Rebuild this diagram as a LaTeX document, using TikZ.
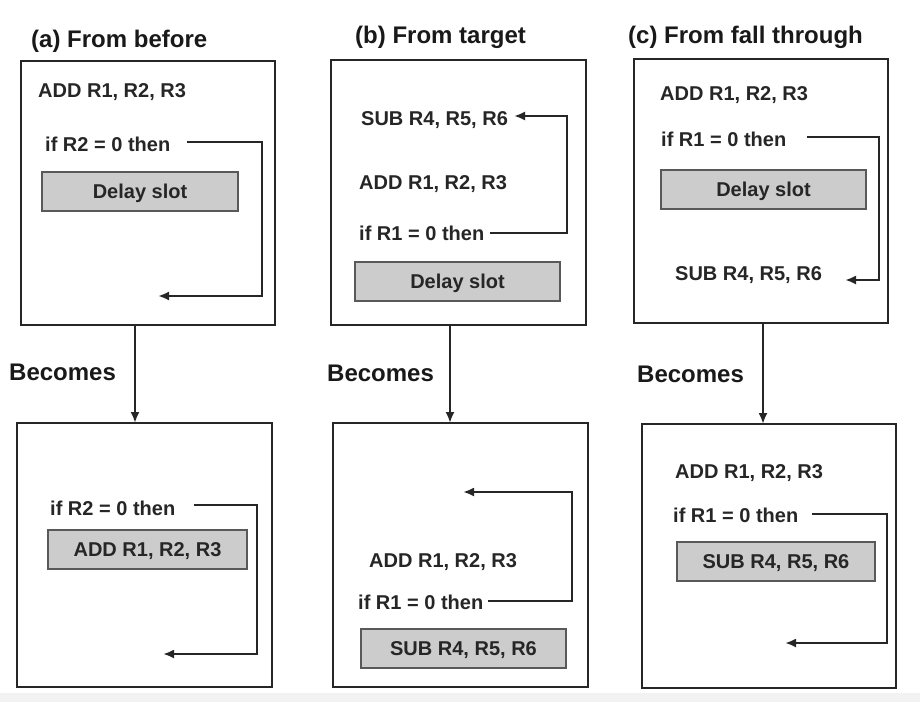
\documentclass[tikz,border=0pt]{standalone}
\usepackage{fontspec}
\setmainfont{Liberation Sans}
\usetikzlibrary{arrows.meta}
\begin{document}
\begin{tikzpicture}[x=1pt,y=-1pt,
 panel/.style={draw=black!85, line width=2.2pt, inner sep=0pt, outer sep=0pt},
 slot/.style={draw=black!65, line width=1.6pt, fill=black!20, inner sep=0pt, outer sep=0pt, text=black!85, font=\fontsize{20}{24}\selectfont\bfseries, text height=14.3pt, text depth=0pt},
 code/.style={inner sep=0pt, anchor=west, text=black!85, font=\fontsize{20}{24}\selectfont\bfseries, text height=14.3pt, text depth=0pt},
 title/.style={inner sep=0pt, anchor=west, text=black!90, font=\fontsize{24}{28}\selectfont\bfseries, text height=17.2pt, text depth=0pt},
 conn/.style={line width=2.2pt, draw=black!85, -{Latex[length=11pt,width=9pt]}}
]
\useasboundingbox (0,0) rectangle (920,702);
\fill[white] (0,0) rectangle (920,702);
\fill[black!5] (0,693) rectangle (920,702);

% titles
\node[title] (ta) at (31,39) {(a) From before};
\node[title] (tb) at (355,35) {(b) From target};
\node[title] (tc) at (628,35) {(c) From fall through};

% panel boxes
\node[panel, minimum width=254pt, minimum height=264pt] (a1) at (148,193) {};
\node[panel, minimum width=255pt, minimum height=264pt] (a2) at (144.5,555) {};
\node[panel, minimum width=255pt, minimum height=265pt] (b1) at (458.5,192.5) {};
\node[panel, minimum width=255pt, minimum height=264pt] (b2) at (460.5,555) {};
\node[panel, minimum width=254pt, minimum height=264pt] (c1) at (761,191) {};
\node[panel, minimum width=254pt, minimum height=264pt] (c2) at (769,556) {};

% Becomes labels
\node[title] (ba) at (9,372) {Becomes};
\node[title] (bb) at (327,373) {Becomes};
\node[title] (bc) at (637,374) {Becomes};

% vertical arrows
\coordinate (va) at (135,325);
\coordinate (vb) at (450,325);
\coordinate (vc) at (763,323);
\draw[conn] (va) -- (va |- a2.north);
\draw[conn] (vb) -- (vb |- b2.north);
\draw[conn] (vc) -- (vc |- c2.north);

% ---- panel a top
\node[code] (a1add) at (38,90) {ADD R1, R2, R3};
\node[code] (a1if) at (45,144) {if R2 = 0 then};
\node[slot, minimum width=196pt, minimum height=39pt] (a1slot) at (140,191.5) {Delay slot};
\coordinate (a1s) at (187,142);
\coordinate (a1r) at (262,142);
\coordinate (a1d) at (262,296);
\coordinate (a1t) at (158,296);
\draw[conn] (a1s) -- (a1r) -- (a1d) -- (a1t);

% ---- panel a bottom
\node[code] (a2if) at (50,508) {if R2 = 0 then};
\node[slot, minimum width=199pt, minimum height=39pt] (a2slot) at (147.5,549.5) {ADD R1, R2, R3};
\coordinate (a2s) at (194,505);
\coordinate (a2r) at (257,505);
\coordinate (a2d) at (257,654);
\coordinate (a2t) at (163,654);
\draw[conn] (a2s) -- (a2r) -- (a2d) -- (a2t);

% ---- panel b top
\node[code] (b1sub) at (361,118) {SUB R4, R5, R6};
\node[code] (b1add) at (359,182) {ADD R1, R2, R3};
\node[code] (b1if) at (359,233) {if R1 = 0 then};
\node[slot, minimum width=205pt, minimum height=39pt] (b1slot) at (457.5,281.5) {Delay slot};
\coordinate (b1s) at (490,233);
\coordinate (b1r) at (567,233);
\coordinate (b1u) at (567,116);
\coordinate (b1t) at (514,116);
\draw[conn] (b1s) -- (b1r) -- (b1u) -- (b1t);

% ---- panel b bottom
\node[code] (b2add) at (369,560) {ADD R1, R2, R3};
\node[code] (b2if) at (358,602) {if R1 = 0 then};
\node[slot, minimum width=205pt, minimum height=39pt] (b2slot) at (463.5,648.5) {SUB R4, R5, R6};
\coordinate (b2s) at (488,601);
\coordinate (b2r) at (572,601);
\coordinate (b2u) at (572,492);
\coordinate (b2t) at (463,492);
\draw[conn] (b2s) -- (b2r) -- (b2u) -- (b2t);

% ---- panel c top
\node[code] (c1add) at (660,93) {ADD R1, R2, R3};
\node[code] (c1if) at (661,139) {if R1 = 0 then};
\node[slot, minimum width=205pt, minimum height=39pt] (c1slot) at (763.5,189.5) {Delay slot};
\node[code] (c1sub) at (675,273) {SUB R4, R5, R6};
\coordinate (c1s) at (807,137);
\coordinate (c1r) at (879,137);
\coordinate (c1d) at (879,280);
\coordinate (c1t) at (845,280);
\draw[conn] (c1s) -- (c1r) -- (c1d) -- (c1t);

% ---- panel c bottom
\node[code] (c2add) at (675,471) {ADD R1, R2, R3};
\node[code] (c2if) at (673,515) {if R1 = 0 then};
\node[slot, minimum width=198pt, minimum height=39pt] (c2slot) at (776,561.5) {SUB R4, R5, R6};
\coordinate (c2s) at (812,514);
\coordinate (c2r) at (887,514);
\coordinate (c2d) at (887,643);
\coordinate (c2t) at (785,643);
\draw[conn] (c2s) -- (c2r) -- (c2d) -- (c2t);
\end{tikzpicture}
\end{document}
